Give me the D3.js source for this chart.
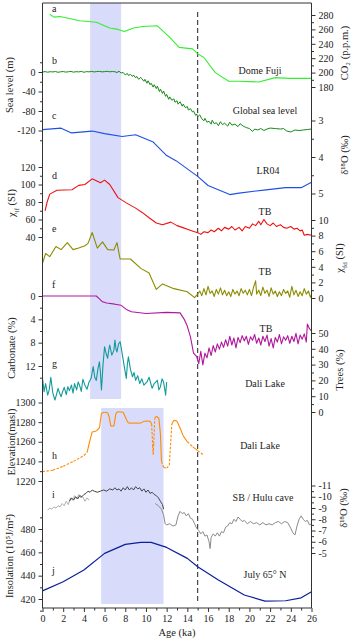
<!DOCTYPE html>
<html><head><meta charset="utf-8">
<script src="https://cdn.jsdelivr.net/npm/d3@7"></script>
<style>body{margin:0;background:#fff}svg{display:block}text{font-family:"Liberation Serif","Times New Roman",serif}</style>
</head><body><svg id="c" width="353" height="641"></svg>
<script>
// ---------- DATA ----------
const ageTicks = [0,2,4,6,8,10,12,14,16,18,20,22,24,26];
const band1 = [4.6, 7.6];
const band2 = [5.67, 11.7];
const dashedAge = 15;

const co2Age = [0.7,1.1,1.7,3.6,5.2,6.5,7.3,7.9,8.8,9.7,11.1,12.3,13.2,14.5,15.0,15.6,16.7,18.0,19.0,20.9,22.5,23.8,26.0];
const co2Val = [281,277,278,272,270,262,260,257,262,264,265,249,235,233,226,221,200,188,188,187,193,192,192];

const seaAge = [0,0.25,0.5,0.75,1,1.25,1.5,1.75,2,2.25,2.5,2.75,3,3.25,3.5,3.75,4,4.25,4.5,4.75,5,5.25,5.5,5.75,6,6.25,6.5,6.75,7.0,7.2,7.4,7.6,7.8,8.0,8.2,8.3,8.5,8.7,8.8,9.0,9.1,9.3,9.5,9.6,9.8,9.9,10.1,10.2,10.4,10.5,10.7,10.8,11.0,11.1,11.3,11.4,11.6,11.7,11.9,12.0,12.2,12.3,12.5,12.7,12.8,13.0,13.1,13.3,13.5,13.6,13.8,14.0,14.1,14.3,14.5,14.6,14.8,14.9,15.0,15.2,15.4,15.6,15.7,15.9,16.1,16.3,16.4,16.6,16.8,17.0,17.2,17.4,17.6,17.9,18.1,18.3,18.6,18.9,19.1,19.4,19.7,20.0,20.3,20.5,20.8,21.1,21.4,21.7,22.0,22.5,23.0,23.3,23.6,24.0,24.4,24.8,25.2,25.6,26.0];
const seaVal = [0,0.8,-0.4,0.6,0.1,1.0,-0.6,0.4,0.9,-0.2,0.5,1.1,-0.3,0.7,0.2,1.2,-0.5,0.8,0.3,1.3,0.1,0.9,1.4,0.2,0.8,1.5,0.4,1.0,0.5,-1,1.5,-2,-1,-6,-3,-7,-5,-9,-6,-12,-9,-15,-11,-14,-19,-15,-23,-18,-26,-23,-31,-26,-34,-29,-40,-35,-44,-39,-50,-46,-56,-51,-58,-55,-62,-59,-66,-61,-70,-66,-73,-71,-78,-75,-82,-80,-89,-86,-92,-88,-96,-100,-95,-103,-101,-107,-99,-106,-104,-110,-102,-108,-105,-111,-103,-109,-107,-112,-106,-111,-114,-116,-122,-117,-119,-116,-120,-117,-115,-116,-117,-116,-121,-123,-119,-120,-119,-118,-117];

const lr04Age = [0,1.8,2.8,4.8,6.0,7.7,9.0,10.7,12.0,12.9,15.0,16.0,18.1,19.0,21.6,23.5,25.0,26.0];
const lr04Val = [3.25,3.21,3.34,3.29,3.36,3.44,3.39,3.59,3.96,4.1,4.53,4.78,5.03,4.99,4.9,4.84,4.84,4.69];

const xlfAge = [0.25,0.45,0.7,1.4,2.85,3.5,4.1,4.8,5.25,5.6,6.0,6.5,7.3,8.1,9.0,9.7,10.3,11.0,11.6,12.4,13.0,13.5,14.2,14.7,15,15.3,15.6,16,16.3,16.6,17,17.3,17.6,18,18.3,18.6,19,19.3,19.6,20,20.3,20.6,20.9,21.1,21.4,21.7,22,22.3,22.6,23,23.3,23.6,24,24.3,24.6,24.9,25.1,25.3,25.6,26];
const xlfVal = [70,80,89,93.5,94,99,100,106.5,104,102,105,100,85,79,73,67.5,62,56,54,57,53,51,48,46,45,43,46,45,48,46,50,47,51,49,52,48,51,47,52,50,55,53,58,54,60,55,53,56,52,54,51,50,52,49,50,47,48,42,43,42];

const xfdAge = [0,0.3,0.7,1.3,1.8,2.4,2.95,3.5,4.1,4.4,4.8,5.3,5.8,6.3,6.9,7.2,7.5,8.5,9.5,10.3,11.0,11.6,12.7,14.0,14.7,15,15.2,15.4,15.6,15.8,16,16.2,16.4,16.6,16.8,17,17.2,17.4,17.6,17.8,18,18.2,18.4,18.6,18.8,19,19.2,19.4,19.6,19.8,20,20.2,20.4,20.6,20.7,20.9,21.1,21.3,21.5,21.7,21.9,22.1,22.3,22.5,22.7,22.9,23.1,23.3,23.5,23.7,23.9,24.1,24.3,24.5,24.7,24.9,25.1,25.3,25.5,25.7,25.9,26];
const xfdVal = [4.45,5.7,5.3,6.6,6.2,7.1,6.2,6.4,6.7,7.0,8.4,6.4,7.2,6.2,6.15,7.1,5.0,5.0,3.8,3.2,1.1,1.8,1.2,0.8,0.04,0.5,0.9,0.3,1.2,0.4,1.5,0.6,0.9,0.2,1.1,0.5,1.3,0.4,1.0,0.3,0.8,0.2,1.1,0.5,0.9,0.3,1.2,0.6,1.0,0.4,1.1,0.3,1.4,2.2,0.5,1.0,0.3,1.4,0.6,1.0,0.2,1.3,0.5,0.9,0.2,0.8,0.3,1.1,0.6,0.9,0.1,1.5,0.4,1.0,0.2,0.8,0.3,1.2,0.5,0.9,0.1,0.4];

const carbAge = [0,5.2,5.5,5.8,6.2,7.0,7.6,8.1,8.6,10.0,12.0,13.3,13.7,14.0,14.3,14.6,14.9,15.1,15.3,15.5,15.7,15.9,16.1,16.3,16.5,16.7,16.9,17.1,17.3,17.5,17.7,17.9,18.1,18.3,18.5,18.7,18.9,19.1,19.3,19.5,19.7,19.9,20.1,20.3,20.5,20.7,20.9,21.1,21.3,21.5,21.7,21.9,22.1,22.3,22.5,22.7,22.9,23.1,23.3,23.5,23.7,23.9,24.1,24.3,24.5,24.7,24.9,25.1,25.3,25.5,25.6,25.8,26];
const carbVal = [0,0,0.5,1.0,1.2,1.4,1.6,2.3,2.7,3.0,2.8,2.9,4.0,5.2,7.0,9.8,10.4,11.6,9.5,11.8,9.8,10.6,8.9,10.2,8.5,9.6,8.2,9.1,7.9,8.8,7.5,8.6,6.9,8.4,7.2,8.9,7.1,8.0,6.8,7.7,6.9,8.3,7.0,7.6,6.6,8.1,7.2,8.4,6.9,7.8,6.7,8.6,7.3,8.9,7.1,7.9,6.6,8.2,7.0,7.6,6.8,8.1,6.9,7.8,6.4,8.2,6.7,7.4,6.5,7.9,4.8,5.6,6.0];

const treeAge = [0,0.1,0.15,0.3,0.5,0.65,0.8,1.0,1.2,1.35,1.5,1.65,1.8,1.95,2.1,2.3,2.45,2.6,2.8,2.95,3.1,3.3,3.45,3.6,3.75,3.9,4.1,4.3,4.5,4.7,4.8,4.9,5.05,5.2,5.35,5.5,5.6,5.7,5.85,6.0,6.15,6.3,6.4,6.5,6.7,6.9,7.0,7.1,7.2,7.35,7.5,7.65,7.8,7.95,8.1,8.2,8.3,8.5,8.7,8.85,9.0,9.2,9.4,9.6,9.8,10.1,10.3,10.6,10.8,11.1,11.25,11.4,11.55,11.7,11.85,11.9,12.0];
const treeVal = [21.3,16,12.8,18,10.7,14,22,12,7.6,11,15,12,9.7,13,15.6,11,16,13.5,17,12,18,14,19,16.5,13,20.7,17,14.4,19,21.3,25,28.7,22,20,27,31.8,25,13.9,30,41.3,37,34,39,42.4,36,39,45.6,40,38,43,44.5,39,33,27,21.3,30,35,27,22.3,25,20,23,18,21,17,19,22,15,18,20,14,16,21,19,13,10.7,19];

const elevAge = [0,1,2,3,4,4.3,4.6,4.8,5.2,5.5,5.7,6.0,6.3,6.45,6.6,6.9,7.1,7.3,7.8,8.1,8.3,9.5,9.8,10.4,10.55,10.65,10.7,10.75,10.85,11.0,11.25,11.4,11.5,11.7,12.0,12.25,12.5,12.7,13.0,13.3,13.6,14.0,14.5,15.0,15.5];
const elevVal = [1229.5,1231,1235,1240,1246,1249,1262,1270,1271,1274,1289,1290,1289.5,1285,1276,1276,1289,1290.5,1290,1283,1279,1279,1281,1281,1278,1256,1247,1258,1284,1286,1284,1268,1240,1234,1233,1236,1278,1282,1281,1274,1266,1260,1255,1251,1247];
const elevDashed = [1,1,1,1,1,0,0,0,0,0,0,0,0,0,0,0,0,0,0,0,0,0,0,0,1,1,1,1,0,0,0,0,1,1,1,1,0,0,0,0,0,1,0,1,0];

const sb1Age = [0.5,0.7,0.9,1.1,1.3,1.5,1.7,1.9,2.1,2.3,2.5,2.7,2.9,3.1,3.3,3.5,3.7,3.9,4.1,4.3,4.5];
const sb1Val = [-8.8,-9.0,-8.9,-9.1,-9.0,-9.2,-9.1,-9.4,-9.2,-9.6,-9.3,-9.9,-9.7,-10.1,-9.8,-10.2,-9.9,-10.0,-9.6,-9.9,-9.7];
const sb2Age = [2.6,2.8,3.0,3.2,3.4,3.6,3.8,4.0,4.2,4.4,4.6,4.8,5.0,5.3,5.6,5.9,6.2,6.5,6.8,7.0,7.2,7.4,7.6,7.8,8.0,8.2,8.4,8.6,8.8,9.0,9.2,9.4,9.6,9.8,10.0,10.2,10.4,10.6,10.8,11.0,11.2,11.4,11.6,11.7];
const sb2Val = [-9.6,-9.9,-9.7,-10.0,-9.8,-10.1,-10.0,-10.2,-10.3,-10.5,-10.4,-10.6,-10.5,-10.4,-10.5,-10.6,-10.5,-10.7,-10.6,-10.8,-10.6,-10.7,-10.5,-10.8,-10.6,-10.9,-10.6,-10.8,-10.6,-10.9,-10.7,-10.8,-10.5,-10.7,-10.4,-10.6,-10.3,-10.4,-10.2,-10.1,-9.9,-9.6,-9.3,-8.9];
const sb3Age = [10.9,11.2,11.5,11.7,11.85,12.0,12.3,12.6,12.9,13.1,13.3,13.5,13.7,13.9,14.1,14.3,14.5,14.7,14.9,15.1,15.3,15.5,15.7,15.9,16.1,16.2,16.3,16.5,16.7,16.9,17.1,17.3,17.5,17.7,17.9,18.1,18.3,18.5,18.7,18.9,19.1,19.3,19.5,19.8,20.1,20.4,20.7,21.0,21.3,21.6,21.9,22.2,22.5,22.8,23.1,23.4,23.7,24.0,24.2,24.4,24.6,24.8,25.0,25.2,25.4,25.6,25.8,26.0];
const sb3Val = [-9.4,-9.2,-8.9,-8.4,-7.6,-7.5,-7.6,-7.4,-7.5,-8.3,-8.7,-8.5,-8.6,-8.3,-8.5,-8.1,-8.0,-7.6,-7.2,-7.0,-6.7,-6.9,-6.5,-6.6,-6.0,-5.4,-6.4,-6.7,-6.5,-6.8,-6.5,-6.9,-6.8,-7.3,-7.4,-7.7,-7.6,-8.0,-7.8,-8.2,-8.0,-7.8,-7.9,-7.6,-7.8,-7.6,-7.7,-7.5,-7.7,-7.5,-7.6,-7.5,-7.7,-7.8,-7.6,-7.8,-7.7,-7.2,-6.8,-6.6,-7.4,-8.0,-8.3,-8.0,-7.8,-7.9,-7.5,-7.6];

const insAge = [0,2,4,6,8,9.5,10.5,12,14,15,17,19.5,21.5,23.5,25,26];
const insVal = [427,434.8,444.8,459.1,466.8,468.5,468.5,464.2,454.8,447.6,436.2,423.4,418.2,418.5,421,426.2];

// ---------- LAYOUT ----------
const svg = d3.select('#c');
const X0 = 42.5, X1 = 311.5, YT = 3, YB = 608;
const x = d3.scaleLinear([0,26],[X0,X1]);

const yCO2 = d3.scaleLinear([180,280],[87,15]);
const ySea = d3.scaleLinear([-120,0],[130.5,72]);
const yLR = d3.scaleLinear([3,5],[120.5,193.5]);
const yXlf = d3.scaleLinear([40,120],[237,167]);
const yXfd = d3.scaleLinear([0,10],[298,220]);
const yCarb = d3.scaleLinear([0,12],[296,366]);
const yTree = d3.scaleLinear([0,50],[412,333]);
const yElev = d3.scaleLinear([1220,1300],[481,402.5]);
const yO = d3.scaleLinear([-11,-5],[485.5,553]);
const yIns = d3.scaleLinear([420,480],[599,529]);

// bands
svg.append('rect').attr('x',x(band1[0])).attr('y',YT).attr('width',x(band1[1])-x(band1[0])).attr('height',399-YT).attr('fill','#d8dcfa');
svg.append('rect').attr('x',x(band2[0])).attr('y',408).attr('width',x(band2[1])-x(band2[0])).attr('height',604-408).attr('fill','#d8dcfa');

// dashed line
svg.append('line').attr('x1',x(dashedAge)).attr('x2',x(dashedAge)).attr('y1',12).attr('y2',604)
  .attr('stroke','#222').attr('stroke-width',1).attr('stroke-dasharray','5,3');

function series(ages, vals, y, color, w=1){
  const line = d3.line().x(d=>x(d[0])).y(d=>y(d[1]));
  svg.append('path').datum(d3.zip(ages, vals)).attr('d', line)
    .attr('fill','none').attr('stroke',color).attr('stroke-width',w).attr('stroke-linejoin','round');
}
series(co2Age, co2Val, yCO2, '#33ee33', 1.1);
series(seaAge, seaVal, ySea, '#168a16', 1);
series(lr04Age, lr04Val, yLR, '#1f4fe6', 1.1);
series(xlfAge, xlfVal, yXlf, '#ee1111', 1.1);
series(xfdAge, xfdVal, yXfd, '#8c8c00', 1.1);
series(carbAge, carbVal, yCarb, '#b0189c', 1.1);
series(treeAge, treeVal, yTree, '#129a9a', 1.1);
series(sb1Age, sb1Val, yO, '#b0b0b0', 1);
series(sb3Age, sb3Val, yO, '#8a8a8a', 1);
series(sb2Age, sb2Val, yO, '#444444', 1);
series(insAge, insVal, yIns, '#0a1f99', 1.2);

// elevation with dashed segments
for (let i=0;i<elevAge.length-1;i++){
  svg.append('line').attr('x1',x(elevAge[i])).attr('x2',x(elevAge[i+1]))
    .attr('y1',yElev(elevVal[i])).attr('y2',yElev(elevVal[i+1]))
    .attr('stroke','#ff8a00').attr('stroke-width',1.1)
    .attr('stroke-dasharray', elevDashed[i] ? '2.5,1.5' : null);
}

// frame
svg.append('line').attr('x1',X0).attr('x2',X0).attr('y1',YT).attr('y2',YB).attr('stroke','#333');
svg.append('line').attr('x1',X1).attr('x2',X1).attr('y1',YT).attr('y2',YB).attr('stroke','#333');
svg.append('line').attr('x1',X0).attr('x2',X1).attr('y1',YT).attr('y2',YT).attr('stroke','#333');

const fmt = d=>String(d);
function styleAxis(g){ g.select('.domain').remove(); g.selectAll('line').attr('stroke','#333');
  g.selectAll('text').attr('font-size',10).attr('font-family','Liberation Serif').attr('fill','#222'); }
function lAxis(scale, major, minor){
  svg.append('g').attr('transform',`translate(${X0},0)`).call(d3.axisLeft(scale).tickValues(major).tickSize(4).tickPadding(3).tickFormat(fmt)).call(styleAxis);
  if(minor) svg.append('g').attr('transform',`translate(${X0},0)`).call(d3.axisLeft(scale).tickValues(minor).tickSize(2.5).tickFormat('')).call(styleAxis);
}
function rAxis(scale, major, minor){
  svg.append('g').attr('transform',`translate(${X1},0)`).call(d3.axisRight(scale).tickValues(major).tickSize(4).tickPadding(3).tickFormat(fmt)).call(styleAxis);
  if(minor) svg.append('g').attr('transform',`translate(${X1},0)`).call(d3.axisRight(scale).tickValues(minor).tickSize(2.5).tickFormat('')).call(styleAxis);
}
lAxis(ySea,[0,-40,-80,-120],[20,-20,-60,-100,-140]);
lAxis(yXlf,[120,100,80,60,40],[110,90,70,50]);
lAxis(yCarb,[0,4,8,12],[2,6,10,14]);
lAxis(yElev,[1300,1280,1260,1240,1220],[1290,1270,1250,1230]);
lAxis(yIns,[480,460,440,420],[490,470,450,430,410]);
rAxis(yCO2,[180,200,220,240,260,280],[190,210,230,250,270]);
rAxis(yLR,[3,4,5],[3.5,4.5]);
rAxis(yXfd,[0,2,4,6,8,10],[1,3,5,7,9]);
rAxis(yTree,[0,10,20,30,40,50],[5,15,25,35,45]);
rAxis(yO,[-11,-10,-9,-8,-7,-6,-5],[-10.5,-9.5,-8.5,-7.5,-6.5,-5.5]);

svg.append('g').attr('transform',`translate(0,${YB})`).call(d3.axisBottom(x).tickValues(ageTicks).tickSize(4).tickPadding(3).tickFormat(fmt)).call(styleAxis);
svg.append('line').attr('x1',X0).attr('x2',X1).attr('y1',YB).attr('y2',YB).attr('stroke','#333');
svg.append('g').attr('transform',`translate(0,${YB})`).call(d3.axisBottom(x).tickValues(d3.range(1,26,2)).tickSize(2.5).tickFormat('')).call(styleAxis);

// texts
function txt(xp, yp, s, opts={}){
  const t = svg.append('text').attr('x',xp).attr('y',yp).attr('font-size',opts.size||10).attr('fill','#222')
    .attr('text-anchor',opts.anchor||'middle').attr('dominant-baseline','middle');
  if(opts.rot) t.attr('transform',`rotate(-90,${xp},${yp})`);
  if(Array.isArray(s)){ s.forEach(p=>{ const ts=t.append('tspan').text(p[0]); if(p[1]) ts.attr('baseline-shift','sub').attr('font-size',7);}); }
  else t.text(s);
  return t;
}
const letters = [['a',10],['b',62],['c',117],['d',177],['e',230],['f',286],['g',365],['h',457],['i',496],['j',572]];
letters.forEach(l=>txt(52,l[1],l[0],{anchor:'start'}));
txt(260,72,'Dome Fuji');
txt(265,112,'Global sea level');
txt(268,172,'LR04');
txt(265,213,'TB');
txt(265,273,'TB');
txt(266,330,'TB');
txt(265,385,'Dali Lake');
txt(260,447,'Dali Lake');
txt(263,499,'SB / Hulu cave');
txt(265,576,'July  65° N');

txt(11,85,'Sea level (m)',{rot:true,size:10.5});
txt(13,203,[['χ'],['lf',1],[' (SI)']],{rot:true,size:10.5});
txt(13,348,'Carbonate (%)',{rot:true,size:10.5});
txt(13,442,'Elevation(masl)',{rot:true,size:10.5});
txt(11,556,'Insolation (10⁵J/m²)',{rot:true,size:10.5});
txt(346,53,'CO₂ (p.p.m.)',{rot:true,size:10.5});
txt(346,155,'δ¹⁸O (‰)',{rot:true,size:10.5});
txt(341,258,[['χ'],['fd',1],[' (SI)']],{rot:true,size:10.5});
txt(341,370,'Trees (%)',{rot:true,size:10.5});
txt(345,508,'δ¹⁸O (‰)',{rot:true,size:10.5});
txt(177,634,'Age (ka)',{size:10.5});
</script></body></html>
